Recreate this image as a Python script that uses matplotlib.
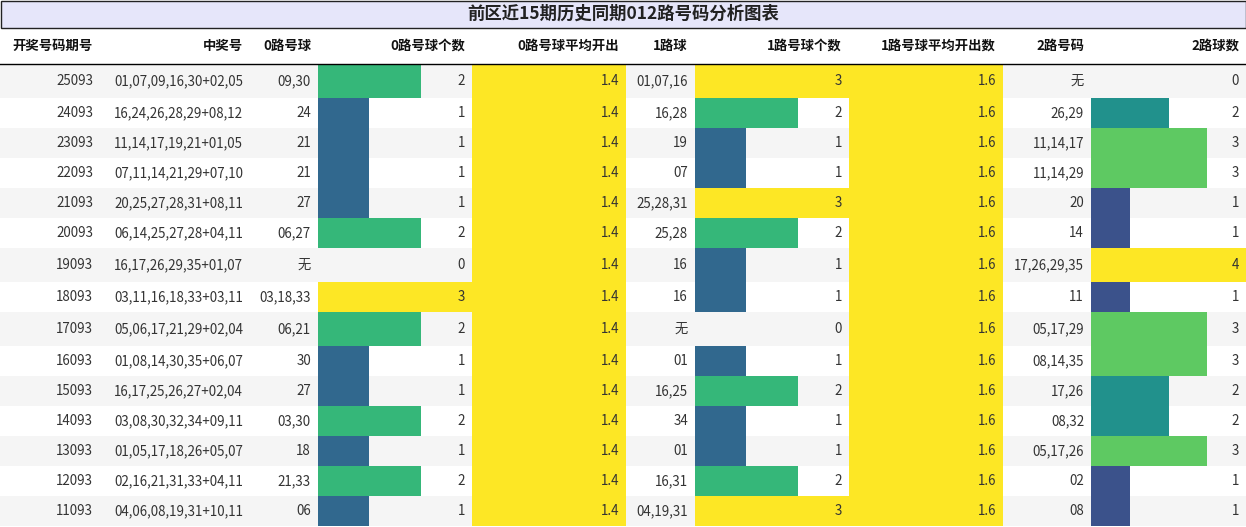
import matplotlib
matplotlib.use("Agg")
import matplotlib.pyplot as plt
from matplotlib import cm
from matplotlib.patches import Rectangle

plt.rcParams['font.family'] = ['Noto Sans CJK SC', 'DejaVu Sans']

title = "前区近15期历史同期012路号码分析图表"
headers = ["开奖号码期号", "中奖号", "0路号球", "0路号球个数", "0路号球平均开出", "1路球", "1路号球个数", "1路号球平均开出数", "2路号码", "2路球数"]
periods = ["25093","24093","23093","22093","21093","20093","19093","18093","17093","16093","15093","14093","13093","12093","11093"]
winning = ["01,07,09,16,30+02,05","16,24,26,28,29+08,12","11,14,17,19,21+01,05","07,11,14,21,29+07,10",
           "20,25,27,28,31+08,11","06,14,25,27,28+04,11","16,17,26,29,35+01,07","03,11,16,18,33+03,11",
           "05,06,17,21,29+02,04","01,08,14,30,35+06,07","16,17,25,26,27+02,04","03,08,30,32,34+09,11",
           "01,05,17,18,26+05,07","02,16,21,31,33+04,11","04,06,08,19,31+10,11"]
road0 = ["09,30","24","21","21","27","06,27","无","03,18,33","06,21","30","27","03,30","18","21,33","06"]
count0 = [2,1,1,1,1,2,0,3,2,1,1,2,1,2,1]
avg0 = [1.4]*15
road1 = ["01,07,16","16,28","19","07","25,28,31","25,28","16","16","无","01","16,25","34","01","16,31","04,19,31"]
count1 = [3,2,1,1,3,2,1,1,0,1,2,1,1,2,3]
avg1 = [1.6]*15
road2 = ["无","26,29","11,14,17","11,14,29","20","14","17,26,29,35","11","05,17,29","08,14,35","17,26","08,32","05,17,26","02","08"]
count2 = [0,2,3,3,1,1,4,1,3,3,2,2,3,1,1]

W, H = 1246, 527
fig = plt.figure(figsize=(W/100, H/100), dpi=100)
ax = fig.add_axes([0, 0, 1, 1])
ax.set_xlim(0, W); ax.set_ylim(H, 0); ax.axis('off')

edges = [0, 100, 250, 318, 472, 626, 695, 849, 1003, 1091, 1246]
# row heights: rows containing 无 taller
tops = []; y = 64
heights = []
for i in range(15):
    h = 34 if "无" in (road0[i], road1[i], road2[i]) else 30
    tops.append(y); heights.append(h); y += h

txtc = '#333333'
fs = 9.6
# title
ax.add_patch(Rectangle((0.5, 0.5), W-1, 27, facecolor='#e6e6fa', edgecolor='#222222', lw=1))
ax.text(W/2, 14, title, ha='center', va='center', fontsize=12.5, fontweight='bold', color='#222')
# headers
for j, hname in enumerate(headers):
    ax.text(edges[j+1]-7, 46, hname, ha='right', va='center', fontsize=fs, fontweight='bold', color='#111')
ax.plot([0, W], [63.5, 63.5], color='black', lw=1)

viridis = matplotlib.colormaps['viridis']
for i in range(15):
    yt, h = tops[i], heights[i]
    yc = yt + h/2
    bg = '#f5f5f5' if i % 2 == 0 else 'white'
    ax.add_patch(Rectangle((0, yt), W, h, facecolor=bg, edgecolor='none'))
    # bars
    for (c, mx, j) in [(count0[i], 3, 3), (count1[i], 3, 6), (count2[i], 4, 9)]:
        if c > 0:
            wcol = edges[j+1]-edges[j]
            ax.barh(yc, c/mx*wcol, height=h, left=edges[j], color=viridis(c/mx), align='center')
    for (v, j) in [(avg0[i], 4), (avg1[i], 7)]:
        ax.barh(yc, edges[j+1]-edges[j], height=h, left=edges[j], color=viridis(1.0), align='center')
    vals = [periods[i], winning[i], road0[i], str(count0[i]), f"{avg0[i]:.1f}", road1[i], str(count1[i]),
            f"{avg1[i]:.1f}", road2[i], str(count2[i])]
    for j, v in enumerate(vals):
        ax.text(edges[j+1]-7, yc, v, ha='right', va='center', fontsize=fs, color=txtc)

fig.savefig("out.png", dpi=100)
